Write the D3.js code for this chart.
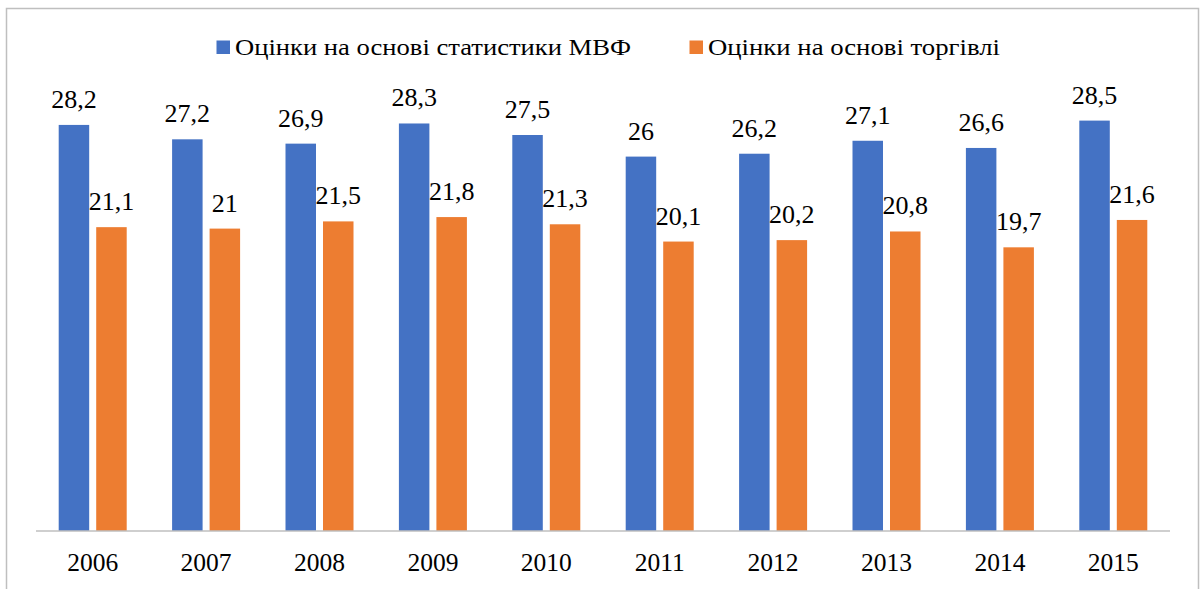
<!DOCTYPE html>
<html><head><meta charset="utf-8">
<script src="https://cdn.jsdelivr.net/npm/d3@7"></script>
<style>
html,body{margin:0;padding:0;background:#fff;}
svg{display:block;}
</style></head>
<body>
<svg id="chart" width="1203" height="589"></svg>
<script>
const years = ["2006","2007","2008","2009","2010","2011","2012","2013","2014","2015"];
const seriesNames = ["Оцінки на основі статистики МВФ", "Оцінки на основі торгівлі"];
const imfValues = [28.2, 27.2, 26.9, 28.3, 27.5, 26.0, 26.2, 27.1, 26.6, 28.5];
const tradeValues = [21.1, 21.0, 21.5, 21.8, 21.3, 20.1, 20.2, 20.8, 19.7, 21.6];
const colors = ["#4472c4", "#ed7d31"];
const FONT = "'Liberation Serif', 'Times New Roman', serif";

const svg = d3.select("#chart");

// outer border
svg.append("rect").attr("x", 6.5).attr("y", 8.5).attr("width", 1192).attr("height", 600)
  .attr("fill", "none").attr("stroke", "#bfbfbf").attr("stroke-width", 1.5);

const plot = {left: 36, right: 1170, top: 27, bottom: 531};
const x0 = d3.scaleBand().domain(years).range([plot.left, plot.right]).padding(0);
const x1 = d3.scaleBand().domain([0, 1]).range([22.7, 90.7]).paddingInner(0.187).paddingOuter(0);
const y = d3.scaleLinear().domain([0, 35]).range([plot.bottom, plot.top]);

const data = years.map((yr, i) => ({year: yr, vals: [imfValues[i], tradeValues[i]]}));

const groups = svg.append("g").selectAll("g").data(data).join("g")
  .attr("transform", d => `translate(${x0(d.year)},0)`);

groups.selectAll("rect").data(d => d.vals.map((v, s) => ({v, s}))).join("rect")
  .attr("x", d => x1(d.s))
  .attr("width", x1.bandwidth())
  .attr("y", d => y(d.v))
  .attr("height", d => y(0) - y(d.v))
  .attr("fill", d => colors[d.s]);

const fmt = v => (Number.isInteger(v) ? String(v) : v.toFixed(1)).replace(".", ",");
groups.selectAll("text.lbl").data(d => d.vals.map((v, s) => ({v, s}))).join("text")
  .attr("class", "lbl")
  .attr("x", d => x1(d.s) + x1.bandwidth() / 2)
  .attr("y", d => y(d.v) - 17)
  .attr("text-anchor", "middle")
  .attr("font-family", FONT)
  .attr("font-size", 26)
  .attr("fill", "#000")
  .text(d => fmt(d.v));

// x axis
const ax = svg.append("g").attr("transform", `translate(0,${plot.bottom})`)
  .call(d3.axisBottom(x0).tickSize(0).tickPadding(22));
ax.attr("font-family", FONT);
ax.select(".domain").attr("stroke", "#bfbfbf").attr("stroke-width", 1.5).attr("d", `M${plot.left},0H${plot.right}`);
ax.selectAll("text").attr("font-size", 25.5).attr("fill", "#000").attr("font-family", FONT);

// legend
const legendX = [216.5, 689.5];
const legendLen = [396, 292];
const leg = svg.append("g");
seriesNames.forEach((name, i) => {
  leg.append("rect").attr("x", legendX[i]).attr("y", 40.5).attr("width", 13.5).attr("height", 13.5).attr("fill", colors[i]);
  leg.append("text").attr("x", legendX[i] + 18.5).attr("y", 54.5)
    .attr("font-family", FONT).attr("font-size", 23)
    .attr("textLength", legendLen[i]).attr("lengthAdjust", "spacingAndGlyphs")
    .attr("fill", "#000").text(name);
});
</script>
</body></html>
